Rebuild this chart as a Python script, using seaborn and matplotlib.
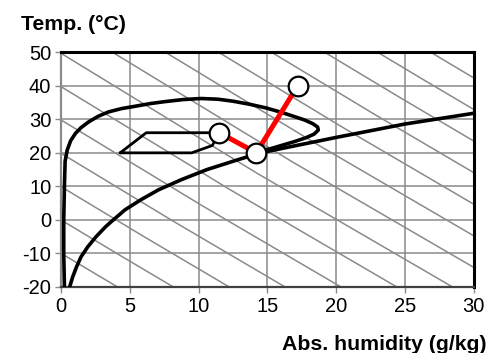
import numpy as np
import pandas as pd
import matplotlib
matplotlib.use("Agg")
import matplotlib.pyplot as plt
import seaborn as sns

# humidity chart data (x = g/kg, t = degC)
x_ticks = [0, 5, 10, 15, 20, 25, 30]
t_ticks = [-20, -10, 0, 10, 20, 30, 40, 50]

# saturation curve, continued by the upper limit line
sat_x = [0.63, 0.85, 1.13, 1.46, 1.95, 2.55, 3.25, 3.8, 4.65, 5.8, 7.1, 8.75, 10.6,
         12.9, 14.5, 17.0, 20.0, 25.0, 30.0]
sat_t = [-20, -17, -14, -11, -8, -5, -2, 0, 3, 6, 9, 12, 15,
         18, 20, 22.1, 24.6, 28.6, 31.8]

# large closed zone
loop_x = [0.25, 0.2, 0.2, 0.25, 0.3, 0.45, 0.7, 1.05, 1.45, 2.0, 2.7, 3.45, 4.4, 5.4,
          6.5, 7.6, 8.9, 10.2, 11.4, 12.5, 13.7, 14.9, 16.0, 16.9, 17.7, 18.3, 18.65,
          18.7, 18.4, 17.8, 17.0, 16.1, 15.2, 14.4]
loop_t = [-20, -10, 0, 10, 17.5, 20.8, 23.6, 25.8, 27.5, 29.2, 30.9, 32.2, 33.2, 33.9,
          34.7, 35.3, 35.9, 36.2, 36.0, 35.4, 34.5, 33.4, 32.1, 30.9, 29.8, 28.7, 27.7,
          26.8, 25.6, 24.5, 23.4, 22.3, 21.2, 20.4]

# small comfort zone
hex_x = [4.3, 6.2, 11.5, 11.0, 9.5, 4.3]
hex_t = [20, 26, 26, 22.2, 20, 20]

# process states
proc_x = [11.5, 14.2, 17.2]
proc_t = [26, 20, 40]

# enthalpy lines (start, middle, end points)
enth_x = [[0, 2.06, 4.11], [0, 4.09, 8.17], [0, 6.12, 12.23], [0, 8.15, 16.29],
          [0, 10.18, 20.35], [0, 12.21, 24.41], [0, 14.23, 28.46],
          [3.74, 16.87, 30], [7.59, 18.8, 30], [11.45, 20.73, 30], [15.3, 22.65, 30],
          [19.16, 24.58, 30], [23.01, 26.5, 30], [26.87, 28.43, 30]]
enth_t = [[-9.94, -14.99, -20], [0, -10.08, -20], [9.94, -5.2, -20], [19.88, -0.36, -20],
          [29.82, 4.44, -20], [39.76, 9.21, -20], [49.7, 13.96, -20],
          [50, 17.17, -14.16], [50, 22.08, -4.74], [50, 26.97, 4.68], [50, 31.82, 14.1],
          [50, 36.63, 23.52], [50, 41.43, 32.94], [50, 46.18, 42.35]]

sns.set_style("white")
plt.rcParams['font.family'] = ['Liberation Sans', 'DejaVu Sans']
plt.rcParams['axes.unicode_minus'] = False

grey = "#8a8a8a"
fig = plt.figure(figsize=(5.04, 3.53), dpi=100)
ax = fig.add_axes([0.121, 0.187, 0.819, 0.665])

for ex, et in zip(enth_x, enth_t):
    sns.lineplot(x=ex, y=et, sort=False, estimator=None, color=grey, lw=1.1, ax=ax, zorder=2)

round_kw = dict(solid_joinstyle="round", solid_capstyle="round")
sns.lineplot(x=sat_x, y=sat_t, sort=False, estimator=None, color="black", lw=2.6, ax=ax,
             zorder=3, **round_kw)
sns.lineplot(x=loop_x, y=loop_t, sort=False, estimator=None, color="black", lw=2.6, ax=ax,
             zorder=3, **round_kw)
sns.lineplot(x=hex_x, y=hex_t, sort=False, estimator=None, color="black", lw=2.0, ax=ax,
             zorder=3)
sns.lineplot(x=proc_x, y=proc_t, sort=False, estimator=None, color="#ff0000", lw=3.6, ax=ax,
             zorder=4)
sns.scatterplot(x=proc_x, y=proc_t, s=200, color="white", edgecolor="black", linewidth=1.6,
                ax=ax, zorder=5, clip_on=False)

ax.set_xlim(0, 30)
ax.set_ylim(-20, 50)
ax.set_xticks(x_ticks)
ax.set_yticks(t_ticks)
ax.grid(True, color=grey, lw=1.1)
ax.set_axisbelow(True)
ax.set_xlabel("")
ax.set_ylabel("")
ax.tick_params(axis="both", labelsize=14.5, labelcolor="black", length=4, width=1,
               color=grey, pad=3, direction="out", left=True, bottom=True)

for side in ["top", "right"]:
    ax.spines[side].set_color("black")
    ax.spines[side].set_linewidth(2.2)
ax.spines["bottom"].set_color("#404040")
ax.spines["bottom"].set_linewidth(1.6)
ax.spines["left"].set_color(grey)
ax.spines["left"].set_linewidth(1.6)

fig.text(21 / 504, 1 - 29.5 / 353, "Temp. (°C)", fontsize=15.3, fontweight="bold",
         color="black", ha="left", va="baseline")
fig.text(487 / 504, 1 - 350 / 353, "Abs. humidity (g/kg)", fontsize=15.3, fontweight="bold",
         color="black", ha="right", va="baseline")

fig.savefig("out.png", dpi=100)
